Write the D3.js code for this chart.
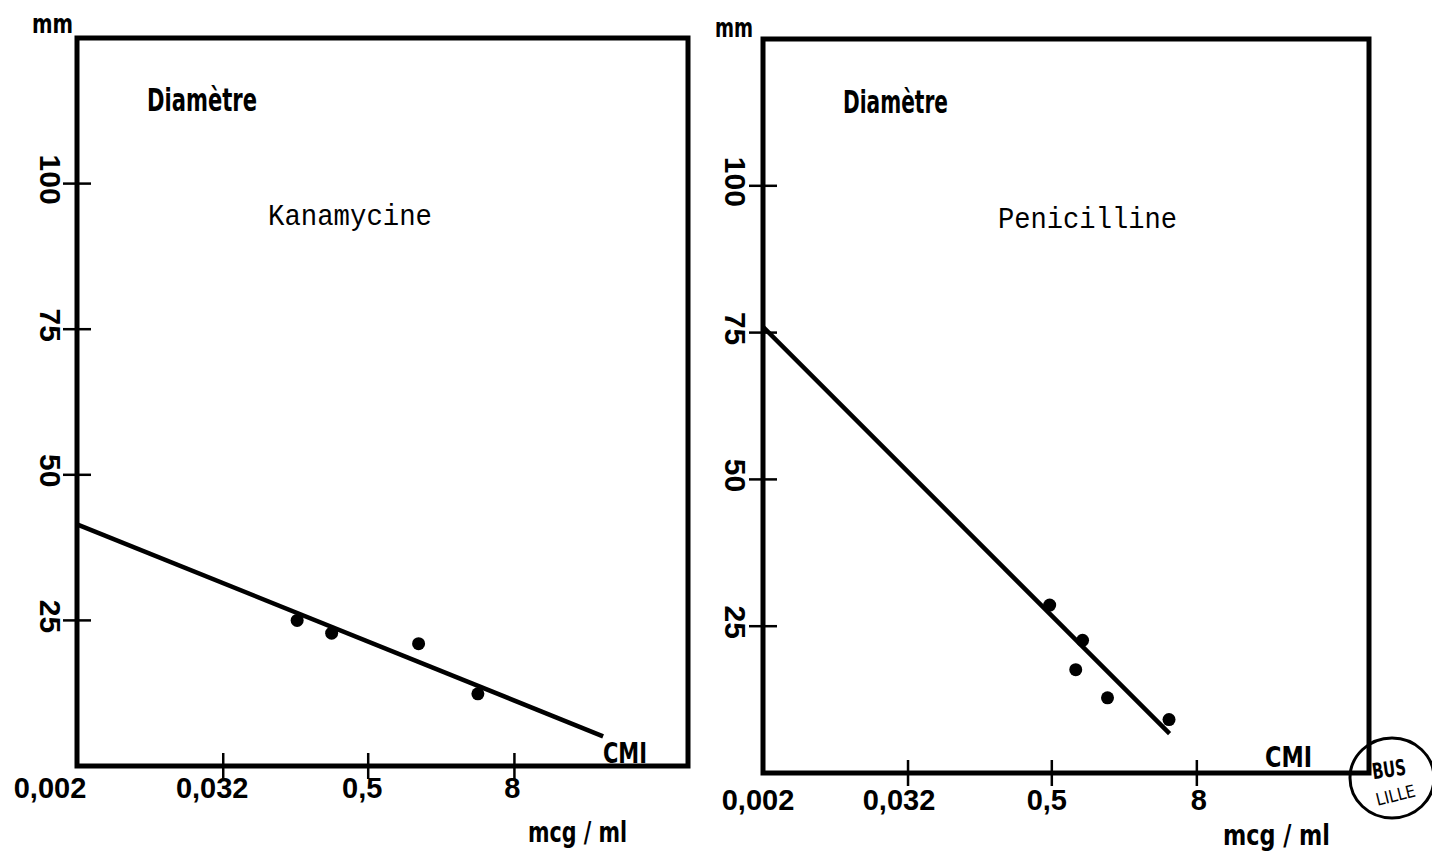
<!DOCTYPE html>
<html>
<head>
<meta charset="utf-8">
<script src="https://cdn.jsdelivr.net/npm/d3@7"></script>
<style>
  html, body { margin: 0; padding: 0; background: #fff; }
  svg { display: block; }
</style>
</head>
<body>
<svg id="chart" width="1432" height="851"></svg>
<script>
// ---------- data ----------
const xTicks = [0.002, 0.032, 0.5, 8];
const xTickLabels = ["0,002", "0,032", "0,5", "8"];
const yTicks = [25, 50, 75, 100];
const yTickLabels = ["25", "50", "75", "100"];
const xDomain = [0.002, 215];
const yDomain = [0, 125];

const kanaTitle = "Kanamycine";
const kanaDotsX = [0.13, 0.25, 1.3, 4];
const kanaDotsY = [25, 22.8, 21, 12.4];
const kanaLineX = [0.002, 43];
const kanaLineY = [41.5, 5.1];

const peniTitle = "Penicilline";
const peniDotsX = [0.48, 0.9, 0.79, 1.45, 4.7];
const peniDotsY = [28.6, 22.6, 17.6, 12.8, 9.1];
const peniLineX = [0.002, 4.75];
const peniLineY = [76, 6.7];

const yAxisUnit = "mm";
const yAxisTitle = "Diamètre";
const xAxisUnit = "mcg / ml";
const endLabel = "CMI";

// ---------- layout ----------
const svg = d3.select("#chart");
const condensed = "'DejaVu Sans Condensed','Liberation Sans Narrow','DejaVu Sans',sans-serif";
const labelFont = "'Liberation Sans',Arial,sans-serif";
const monoFont = "'Liberation Mono','Courier New',monospace";

const panels = [
  {
    left: 77, right: 688, top: 38, bottom: 766,
    title: kanaTitle, dotsX: kanaDotsX, dotsY: kanaDotsY, lineX: kanaLineX, lineY: kanaLineY,
    xLabelDx: [-27, -11, -6, -2], xLabelY: 798, yLabelX: 50,
    mm: {x: 32, y: 33, w: 41},
    diam: {x: 147, y: 111, w: 110},
    titlePos: {x: 268, y: 225, w: 164},
    cmi: {x: 603, y: 763, w: 44},
    unit: {x: 528, y: 842, w: 99}
  },
  {
    left: 763, right: 1369, top: 39, bottom: 773,
    title: peniTitle, dotsX: peniDotsX, dotsY: peniDotsY, lineX: peniLineX, lineY: peniLineY,
    xLabelDx: [-5, -9, -5, 2], xLabelY: 810, yLabelX: 735,
    mm: {x: 715, y: 37, w: 38},
    diam: {x: 843, y: 113, w: 105},
    titlePos: {x: 998, y: 228, w: 179},
    cmi: {x: 1265, y: 767, w: 47},
    unit: {x: 1223, y: 845, w: 107}
  }
];

panels.forEach(p => {
  const x = d3.scaleLog().base(16).domain(xDomain).range([p.left, p.right]);
  const y = d3.scaleLinear().domain(yDomain).range([p.bottom, p.top]);
  const g = svg.append("g");

  // frame
  g.append("rect")
    .attr("x", p.left).attr("y", p.top)
    .attr("width", p.right - p.left).attr("height", p.bottom - p.top)
    .attr("fill", "none").attr("stroke", "#000").attr("stroke-width", 5);

  // y axis crossing ticks
  g.selectAll(".ytick").data(yTicks).enter().append("line")
    .attr("x1", p.left - 14).attr("x2", p.left + 14)
    .attr("y1", d => y(d)).attr("y2", d => y(d))
    .attr("stroke", "#000").attr("stroke-width", 2.5);

  g.selectAll(".ylab").data(yTicks).enter().append("text")
    .attr("transform", d => `translate(${p.yLabelX},${y(d) - 4}) rotate(90)`)
    .attr("text-anchor", "middle").attr("dy", "0.35em")
    .attr("font-family", labelFont).attr("font-weight", "bold").attr("font-size", 30)
    .text((d, i) => yTickLabels[i]);

  // x axis crossing ticks
  g.selectAll(".xtick").data(xTicks.slice(1)).enter().append("line")
    .attr("x1", d => x(d)).attr("x2", d => x(d))
    .attr("y1", p.bottom - 13).attr("y2", p.bottom + 13)
    .attr("stroke", "#000").attr("stroke-width", 2.5);

  g.selectAll(".xlab").data(xTicks).enter().append("text")
    .attr("x", (d, i) => x(d) + p.xLabelDx[i]).attr("y", p.xLabelY)
    .attr("text-anchor", "middle")
    .attr("font-family", labelFont).attr("font-weight", "bold").attr("font-size", 29)
    .text((d, i) => xTickLabels[i]);

  // regression line
  const lineData = p.lineX.map((v, i) => [v, p.lineY[i]]);
  g.append("path")
    .attr("d", d3.line().x(d => x(d[0])).y(d => y(d[1]))(lineData))
    .attr("fill", "none").attr("stroke", "#000").attr("stroke-width", 4.5);

  // dots
  const dots = p.dotsX.map((v, i) => [v, p.dotsY[i]]);
  g.selectAll(".dot").data(dots).enter().append("circle")
    .attr("cx", d => x(d[0])).attr("cy", d => y(d[1])).attr("r", 6.5)
    .attr("fill", "#000");

  // condensed labels
  const cond = (pos, txt, size) => g.append("text")
    .attr("x", pos.x).attr("y", pos.y)
    .attr("textLength", pos.w).attr("lengthAdjust", "spacingAndGlyphs")
    .attr("font-family", condensed).attr("font-weight", "bold").attr("font-size", size)
    .text(txt);
  cond(p.mm, yAxisUnit, 27);
  cond(p.diam, yAxisTitle, 32);
  cond(p.cmi, endLabel, 29);
  cond(p.unit, xAxisUnit, 29);

  // title in typewriter font
  g.append("text")
    .attr("x", p.titlePos.x).attr("y", p.titlePos.y)
    .attr("textLength", p.titlePos.w).attr("lengthAdjust", "spacingAndGlyphs")
    .attr("font-family", monoFont).attr("font-size", 29)
    .text(p.title);
});

// library stamp
const stamp = svg.append("g");
stamp.append("ellipse").attr("cx", 1392).attr("cy", 778).attr("rx", 42).attr("ry", 40)
  .attr("fill", "none").attr("stroke", "#000").attr("stroke-width", 3);
stamp.append("text").attr("transform", "translate(1390,777) rotate(-8)")
  .attr("text-anchor", "middle").attr("font-family", condensed).attr("font-weight", "bold")
  .attr("font-size", 22).attr("textLength", 34).attr("lengthAdjust", "spacingAndGlyphs").text("BUS");
stamp.append("text").attr("transform", "translate(1397,801) rotate(-14)")
  .attr("text-anchor", "middle").attr("font-family", condensed)
  .attr("font-size", 17).attr("textLength", 40).attr("lengthAdjust", "spacingAndGlyphs").text("LILLE");
</script>
</body>
</html>
